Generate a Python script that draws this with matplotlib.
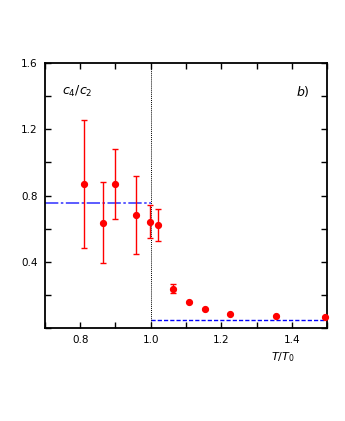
import matplotlib
matplotlib.use("Agg")
import matplotlib.pyplot as plt
from matplotlib.ticker import MultipleLocator

# data
T = [0.811, 0.864, 0.900, 0.959, 0.999, 1.021, 1.063, 1.109, 1.155, 1.226, 1.354, 1.493]
ratio = [0.868, 0.636, 0.870, 0.682, 0.642, 0.624, 0.238, 0.155, 0.115, 0.087, 0.075, 0.067]
err_lo = [0.386, 0.242, 0.210, 0.236, 0.097, 0.097, 0.026, 0, 0, 0, 0, 0]
err_hi = [0.388, 0.246, 0.210, 0.239, 0.101, 0.097, 0.026, 0, 0, 0, 0, 0]
hrg_level = 0.755
sb_level = 0.048
x_labels = ["0.8", "1.0", "1.2", "1.4"]
y_labels = ["0.4", "0.8", "1.2", "1.6"]

fig = plt.figure(figsize=(3.45, 4.21), dpi=100)
ax = fig.add_axes([0.130, 0.221, 0.818, 0.629])

ax.plot([0.7, 1.0], [hrg_level, hrg_level], color="#4040ff", lw=1.2,
        dashes=[8, 1.5, 1.5, 1.5])
ax.plot([1.0, 1.5], [sb_level, sb_level], color="#0000ff", lw=1.0,
        dashes=[3, 1.5])
ax.axvline(1.0, color="black", lw=0.7, ls=(0, (1, 1)))

ax.errorbar(T, ratio, yerr=[err_lo, err_hi], fmt="o", color="red",
            ms=4.2, elinewidth=1.0, capsize=2.5, capthick=1.0, clip_on=False, zorder=3)

ax.set_xlim(0.7, 1.5)
ax.set_ylim(0.0, 1.6)
ax.xaxis.set_minor_locator(MultipleLocator(0.1))
ax.yaxis.set_minor_locator(MultipleLocator(0.2))
ax.set_xticks([0.8, 1.0, 1.2, 1.4])
ax.set_xticklabels(x_labels)
ax.set_yticks([0.4, 0.8, 1.2, 1.6])
ax.set_yticklabels(y_labels)
ax.tick_params(which="both", direction="in", top=True, right=True, labelsize=7.5, width=1.0)
ax.tick_params(which="major", length=4, pad=5)
ax.tick_params(which="minor", length=4)
for s in ax.spines.values():
    s.set_linewidth(1.3)

ax.text(0.06, 0.92, r"$c_4/c_2$", transform=ax.transAxes, fontsize=9, va="top", ha="left")
ax.text(0.89, 0.92, r"$b)$", transform=ax.transAxes, fontsize=9, va="top", ha="left")
ax.text(0.80, -0.085, r"$T/T_0$", transform=ax.transAxes, fontsize=8, va="top", ha="left")

fig.savefig("out.png", dpi=100)
